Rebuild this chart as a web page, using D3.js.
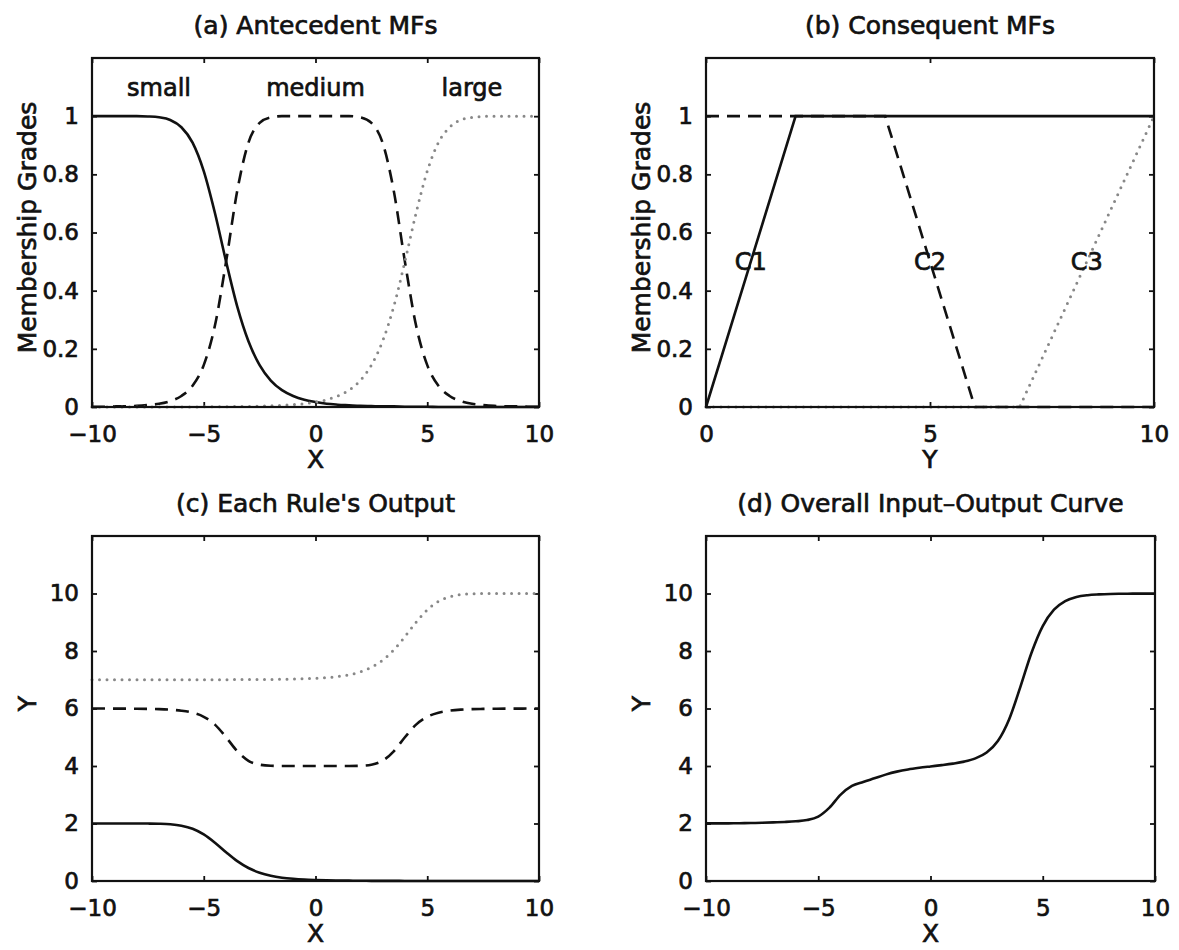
<!DOCTYPE html>
<html>
<meta charset="utf-8">
<script src="https://cdn.jsdelivr.net/npm/d3@7"></script>
<style>
body{ margin:0; background:#fff; }
text{ font-family:"DejaVu Sans", sans-serif; fill:#111; stroke:#111; stroke-width:0.7; }
.frame{ fill:none; stroke:#111; stroke-width:2.2; }
.tick line{ stroke:#111; stroke-width:1.8; }
.domain{ display:none; }
.solid{ fill:none; stroke:#111; stroke-width:2.6; }
.dashed{ fill:none; stroke:#111; stroke-width:2.6; stroke-dasharray:13,8; }
.dotted{ fill:none; stroke:#888; stroke-width:3; stroke-linecap:round; stroke-dasharray:0,7.5; }
</style>
<body>
<svg id="fig" width="1179" height="950"></svg>
<script>
// sample positions along X (read every 0.5)
var xs = [-10,-9.5,-9,-8.5,-8,-7.5,-7,-6.5,-6,-5.5,-5,-4.5,-4,-3.5,-3,-2.5,-2,-1.5,-1,-0.5,
          0,0.5,1,1.5,2,2.5,3,3.5,4,4.5,5,5.5,6,6.5,7,7.5,8,8.5,9,9.5,10];

// (a) antecedent MFs
var smallMF  = [1,1,1,1,1,0.999,0.996,0.987,0.962,0.909,0.811,0.667,0.5,0.345,0.226,0.144,0.091,0.058,0.038,0.025,
                0.017,0.011,0.008,0.006,0.004,0.003,0.002,0.002,0.001,0.001,0.001,0,0,0,0,0,0,0,0,0,0];
var mediumMF = [0.001,0.001,0.002,0.002,0.004,0.007,0.011,0.02,0.038,0.073,0.144,0.28,0.5,0.744,0.909,0.977,0.996,1,1,1,
                1,1,1,1,0.996,0.977,0.909,0.744,0.5,0.28,0.144,0.073,0.038,0.02,0.011,0.007,0.004,0.002,0.002,0.001,0.001];
var largeMF  = [0,0,0,0,0,0,0,0,0,0,0.001,0.001,0.001,0.002,0.002,0.003,0.004,0.006,0.008,0.011,
                0.017,0.025,0.038,0.058,0.091,0.144,0.226,0.345,0.5,0.667,0.811,0.909,0.962,0.987,0.996,0.999,1,1,1,1,1];
var mfNames = ["small", "medium", "large"];
var mfNameX = [-7, 0, 7];

// (b) consequent MFs (breakpoints)
var c1X = [0, 2, 10],      c1Y = [0, 1, 1];
var c2X = [0, 4, 6, 10],   c2Y = [1, 1, 0, 0];
var c3X = [0, 7, 10],      c3Y = [0, 0, 1];
var consNames = ["C1", "C2", "C3"];
var consNameX = [1, 5, 8.5];

// (c) each rule's output
var rule1 = [2,2,2,2,2,1.998,1.992,1.974,1.924,1.818,1.622,1.334,1,0.69,0.452,0.288,0.182,0.116,0.076,0.05,
             0.034,0.022,0.016,0.012,0.008,0.006,0.004,0.004,0.002,0.002,0.002,0,0,0,0,0,0,0,0,0,0];
var rule2 = [5.998,5.998,5.996,5.996,5.992,5.986,5.978,5.96,5.924,5.854,5.712,5.44,5,4.512,4.182,4.046,4.008,4,4,4,
             4,4,4,4,4.008,4.046,4.182,4.512,5,5.44,5.712,5.854,5.924,5.96,5.978,5.986,5.992,5.996,5.996,5.998,5.998];
var rule3 = [7,7,7,7,7,7,7,7,7,7,7.003,7.003,7.003,7.006,7.006,7.009,7.012,7.018,7.024,7.033,
             7.051,7.075,7.114,7.174,7.273,7.432,7.678,8.035,8.5,9.001,9.433,9.727,9.886,9.961,9.988,9.997,10,10,10,10,10];

// (d) overall input-output curve
var overall = [2.003,2.004,2.006,2.01,2.016,2.024,2.038,2.054,2.077,2.119,2.242,2.552,3.005,3.306,3.446,3.572,3.7,3.804,3.881,3.938,
               3.985,4.03,4.082,4.152,4.266,4.47,4.869,5.62,6.743,7.94,8.866,9.436,9.733,9.878,9.941,9.968,9.984,9.99,9.994,9.996,9.997];

var xTicksWide = [-10, -5, 0, 5, 10];
var xTicksCons = [0, 5, 10];
var yTicksMF   = [0, 0.2, 0.4, 0.6, 0.8, 1];
var yTicksY    = [0, 2, 4, 6, 8, 10];

var svg = d3.select("#fig");
var fmt = d3.format("");

function zip(a, b){ return a.map(function(v, i){ return [v, b[i]]; }); }

function panel(p){
  var x = d3.scaleLinear().domain(p.xDom).range([p.left, p.left + p.w]);
  var y = d3.scaleLinear().domain(p.yDom).range([p.top + p.h, p.top]);
  var g = svg.append("g");

  // inward ticks on all four sides
  var xb = g.append("g").attr("transform", "translate(0," + (p.top + p.h) + ")")
    .call(d3.axisBottom(x).tickValues(p.xTicks).tickSize(-5).tickPadding(13).tickFormat(fmt));
  g.append("g").attr("transform", "translate(0," + p.top + ")")
    .call(d3.axisTop(x).tickValues(p.xTicks).tickSize(-5).tickFormat(""));
  g.append("g").attr("transform", "translate(" + p.left + ",0)")
    .call(d3.axisLeft(y).tickValues(p.yTicks).tickSize(-5).tickPadding(13).tickFormat(fmt));
  g.append("g").attr("transform", "translate(" + (p.left + p.w) + ",0)")
    .call(d3.axisRight(y).tickValues(p.yTicks).tickSize(-5).tickFormat(""));
  g.selectAll(".tick text").attr("font-size", 23).attr("font-family", null).attr("fill", null);
  xb.selectAll(".tick text").attr("dy", "0.95em");

  p.series.forEach(function(s){
    var line = d3.line().x(function(d){ return x(d[0]); }).y(function(d){ return y(d[1]); })
      .curve(s.linear ? d3.curveLinear : d3.curveMonotoneX);
    g.append("path").attr("class", s.cls).attr("d", line(zip(s.x, s.y)));
  });

  (p.notes || []).forEach(function(n){
    g.append("text").attr("x", x(n.x)).attr("y", y(n.y)).attr("dy", "0.36em")
      .attr("text-anchor", "middle").attr("font-size", 24).text(n.t);
  });

  g.append("rect").attr("class", "frame")
    .attr("x", p.left).attr("y", p.top).attr("width", p.w).attr("height", p.h);

  g.append("text").attr("x", p.left + p.w / 2).attr("y", p.top - 24)
    .attr("text-anchor", "middle").attr("font-size", 25).text(p.title);
  g.append("text").attr("x", p.left + p.w / 2).attr("y", p.top + p.h + 61)
    .attr("text-anchor", "middle").attr("font-size", 25).text(p.xLabel);
  g.append("text").attr("transform", "translate(" + (p.left - 56) + "," + (p.top + p.h / 2 - 5) + ") rotate(-90)")
    .attr("text-anchor", "middle").attr("font-size", p.yLabelSize).text(p.yLabel);
}

panel({
  title: "(a) Antecedent MFs", left: 92, top: 58, w: 447, h: 349,
  xDom: [-10, 10], yDom: [0, 1.2], xTicks: xTicksWide, yTicks: yTicksMF,
  xLabel: "X", yLabel: "Membership Grades", yLabelSize: 25,
  series: [
    {x: xs, y: smallMF, cls: "solid"},
    {x: xs, y: mediumMF, cls: "dashed"},
    {x: xs, y: largeMF, cls: "dotted"}
  ],
  notes: mfNames.map(function(t, i){ return {t: t, x: mfNameX[i], y: 1.1}; })
});

panel({
  title: "(b) Consequent MFs", left: 706, top: 58, w: 448, h: 349,
  xDom: [0, 10], yDom: [0, 1.2], xTicks: xTicksCons, yTicks: yTicksMF,
  xLabel: "Y", yLabel: "Membership Grades", yLabelSize: 25,
  series: [
    {x: c1X, y: c1Y, cls: "solid", linear: true},
    {x: c2X, y: c2Y, cls: "dashed", linear: true},
    {x: c3X, y: c3Y, cls: "dotted", linear: true}
  ],
  notes: consNames.map(function(t, i){ return {t: t, x: consNameX[i], y: 0.5}; })
});

panel({
  title: "(c) Each Rule's Output", left: 92, top: 536, w: 447, h: 345,
  xDom: [-10, 10], yDom: [0, 12], xTicks: xTicksWide, yTicks: yTicksY,
  xLabel: "X", yLabel: "Y", yLabelSize: 25,
  series: [
    {x: xs, y: rule1, cls: "solid"},
    {x: xs, y: rule2, cls: "dashed"},
    {x: xs, y: rule3, cls: "dotted"}
  ]
});

panel({
  title: "(d) Overall Input\u2013Output Curve", left: 706, top: 536, w: 449, h: 345,
  xDom: [-10, 10], yDom: [0, 12], xTicks: xTicksWide, yTicks: yTicksY,
  xLabel: "X", yLabel: "Y", yLabelSize: 25,
  series: [
    {x: xs, y: overall, cls: "solid"}
  ]
});
</script>
</body>
</html>
